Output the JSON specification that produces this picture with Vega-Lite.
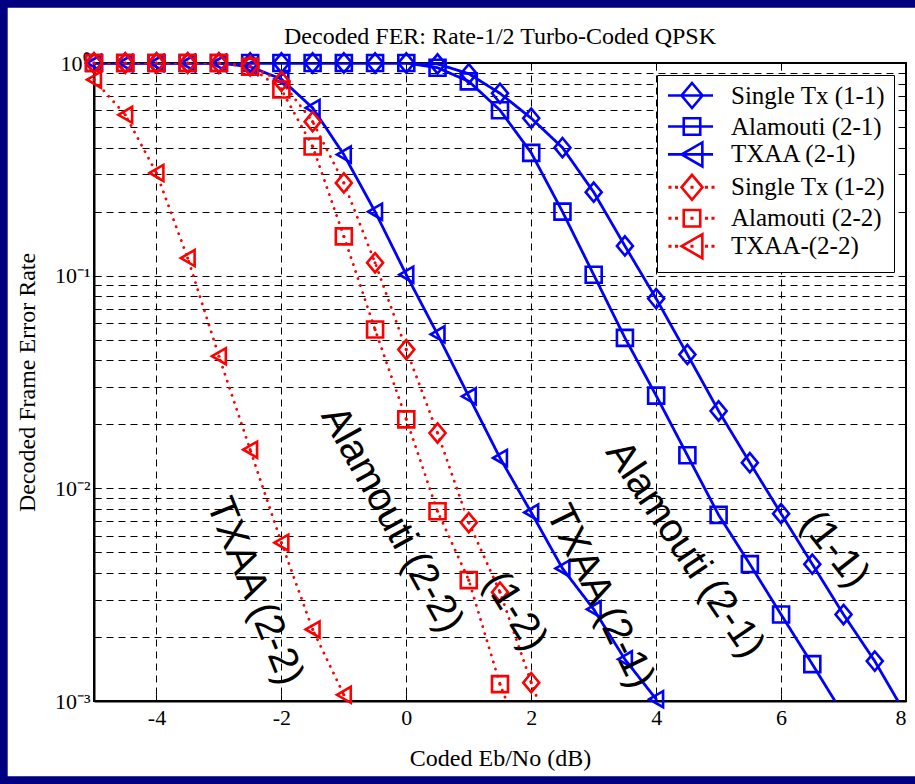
{
  "$schema": "https://vega.github.io/schema/vega-lite/v6.json",
  "width": 812,
  "height": 638,
  "autosize": {"type": "none"},
  "padding": {"left": 94, "top": 63, "right": 9, "bottom": 83},
  "background": "white",
  "title": {
    "text": "Decoded FER: Rate-1/2 Turbo-Coded QPSK",
    "font": "Liberation Serif",
    "fontSize": 24,
    "fontWeight": "normal",
    "color": "black",
    "anchor": "middle",
    "frame": "group",
    "baseline": "alphabetic",
    "offset": 0,
    "dy": 78
  },
  "config": {
    "view": {"stroke": "black", "strokeWidth": 2},
    "axis": {
      "labelFont": "Liberation Serif",
      "labelFontSize": 22,
      "labelColor": "black",
      "titleFont": "Liberation Serif",
      "titleFontSize": 24,
      "titleFontWeight": "normal",
      "titleColor": "black",
      "domainColor": "black",
      "domainWidth": 2,
      "tickColor": "black",
      "tickWidth": 1,
      "gridColor": "black",
      "gridOpacity": 1,
      "gridWidth": 1,
      "gridDash": [7, 5]
    },
    "legend": {
      "symbolSize": 100,
      "symbolStrokeWidth": 2.6
    }
  },
  "datasets": {
    "fer": [
      {"series": "Single Tx (1-1)", "ebno": -5, "fer": 1},
      {"series": "Single Tx (1-1)", "ebno": -4.5, "fer": 1},
      {"series": "Single Tx (1-1)", "ebno": -4, "fer": 1},
      {"series": "Single Tx (1-1)", "ebno": -3.5, "fer": 1},
      {"series": "Single Tx (1-1)", "ebno": -3, "fer": 1},
      {"series": "Single Tx (1-1)", "ebno": -2.5, "fer": 1},
      {"series": "Single Tx (1-1)", "ebno": -2, "fer": 1},
      {"series": "Single Tx (1-1)", "ebno": -1.5, "fer": 1},
      {"series": "Single Tx (1-1)", "ebno": -1, "fer": 1},
      {"series": "Single Tx (1-1)", "ebno": -0.5, "fer": 1},
      {"series": "Single Tx (1-1)", "ebno": 0, "fer": 1},
      {"series": "Single Tx (1-1)", "ebno": 0.5, "fer": 0.99},
      {"series": "Single Tx (1-1)", "ebno": 1, "fer": 0.89},
      {"series": "Single Tx (1-1)", "ebno": 1.5, "fer": 0.72},
      {"series": "Single Tx (1-1)", "ebno": 2, "fer": 0.55},
      {"series": "Single Tx (1-1)", "ebno": 2.5, "fer": 0.4},
      {"series": "Single Tx (1-1)", "ebno": 3, "fer": 0.247},
      {"series": "Single Tx (1-1)", "ebno": 3.5, "fer": 0.138},
      {"series": "Single Tx (1-1)", "ebno": 4, "fer": 0.078},
      {"series": "Single Tx (1-1)", "ebno": 4.5, "fer": 0.0426},
      {"series": "Single Tx (1-1)", "ebno": 5, "fer": 0.0231},
      {"series": "Single Tx (1-1)", "ebno": 5.5, "fer": 0.0132},
      {"series": "Single Tx (1-1)", "ebno": 6, "fer": 0.0076},
      {"series": "Single Tx (1-1)", "ebno": 6.5, "fer": 0.0044},
      {"series": "Single Tx (1-1)", "ebno": 7, "fer": 0.00255},
      {"series": "Single Tx (1-1)", "ebno": 7.5, "fer": 0.00154},
      {"series": "Single Tx (1-1)", "ebno": 8, "fer": 0.00086},
      {"series": "Alamouti (2-1)", "ebno": -5, "fer": 1},
      {"series": "Alamouti (2-1)", "ebno": -4.5, "fer": 1},
      {"series": "Alamouti (2-1)", "ebno": -4, "fer": 1},
      {"series": "Alamouti (2-1)", "ebno": -3.5, "fer": 1},
      {"series": "Alamouti (2-1)", "ebno": -3, "fer": 1},
      {"series": "Alamouti (2-1)", "ebno": -2.5, "fer": 1},
      {"series": "Alamouti (2-1)", "ebno": -2, "fer": 1},
      {"series": "Alamouti (2-1)", "ebno": -1.5, "fer": 1},
      {"series": "Alamouti (2-1)", "ebno": -1, "fer": 1},
      {"series": "Alamouti (2-1)", "ebno": -0.5, "fer": 1},
      {"series": "Alamouti (2-1)", "ebno": 0, "fer": 1},
      {"series": "Alamouti (2-1)", "ebno": 0.5, "fer": 0.95},
      {"series": "Alamouti (2-1)", "ebno": 1, "fer": 0.82},
      {"series": "Alamouti (2-1)", "ebno": 1.5, "fer": 0.6},
      {"series": "Alamouti (2-1)", "ebno": 2, "fer": 0.378},
      {"series": "Alamouti (2-1)", "ebno": 2.5, "fer": 0.2},
      {"series": "Alamouti (2-1)", "ebno": 3, "fer": 0.101},
      {"series": "Alamouti (2-1)", "ebno": 3.5, "fer": 0.051},
      {"series": "Alamouti (2-1)", "ebno": 4, "fer": 0.0273},
      {"series": "Alamouti (2-1)", "ebno": 4.5, "fer": 0.0143},
      {"series": "Alamouti (2-1)", "ebno": 5, "fer": 0.0075},
      {"series": "Alamouti (2-1)", "ebno": 5.5, "fer": 0.0044},
      {"series": "Alamouti (2-1)", "ebno": 6, "fer": 0.00255},
      {"series": "Alamouti (2-1)", "ebno": 6.5, "fer": 0.00149},
      {"series": "Alamouti (2-1)", "ebno": 7, "fer": 0.00086},
      {"series": "TXAA (2-1)", "ebno": -5, "fer": 1},
      {"series": "TXAA (2-1)", "ebno": -4.5, "fer": 1},
      {"series": "TXAA (2-1)", "ebno": -4, "fer": 1},
      {"series": "TXAA (2-1)", "ebno": -3.5, "fer": 1},
      {"series": "TXAA (2-1)", "ebno": -3, "fer": 1},
      {"series": "TXAA (2-1)", "ebno": -2.5, "fer": 0.96},
      {"series": "TXAA (2-1)", "ebno": -2, "fer": 0.84},
      {"series": "TXAA (2-1)", "ebno": -1.5, "fer": 0.615},
      {"series": "TXAA (2-1)", "ebno": -1, "fer": 0.371},
      {"series": "TXAA (2-1)", "ebno": -0.5, "fer": 0.2},
      {"series": "TXAA (2-1)", "ebno": 0, "fer": 0.101},
      {"series": "TXAA (2-1)", "ebno": 0.5, "fer": 0.053},
      {"series": "TXAA (2-1)", "ebno": 1, "fer": 0.0271},
      {"series": "TXAA (2-1)", "ebno": 1.5, "fer": 0.0139},
      {"series": "TXAA (2-1)", "ebno": 2, "fer": 0.0077},
      {"series": "TXAA (2-1)", "ebno": 2.5, "fer": 0.0042},
      {"series": "TXAA (2-1)", "ebno": 3, "fer": 0.0027},
      {"series": "TXAA (2-1)", "ebno": 3.5, "fer": 0.00157},
      {"series": "TXAA (2-1)", "ebno": 4, "fer": 0.00102},
      {"series": "Single Tx (1-2)", "ebno": -5, "fer": 1},
      {"series": "Single Tx (1-2)", "ebno": -4.5, "fer": 1},
      {"series": "Single Tx (1-2)", "ebno": -4, "fer": 1},
      {"series": "Single Tx (1-2)", "ebno": -3.5, "fer": 1},
      {"series": "Single Tx (1-2)", "ebno": -3, "fer": 1},
      {"series": "Single Tx (1-2)", "ebno": -2.5, "fer": 0.97},
      {"series": "Single Tx (1-2)", "ebno": -2, "fer": 0.82},
      {"series": "Single Tx (1-2)", "ebno": -1.5, "fer": 0.53},
      {"series": "Single Tx (1-2)", "ebno": -1, "fer": 0.273},
      {"series": "Single Tx (1-2)", "ebno": -0.5, "fer": 0.115},
      {"series": "Single Tx (1-2)", "ebno": 0, "fer": 0.0449},
      {"series": "Single Tx (1-2)", "ebno": 0.5, "fer": 0.0182},
      {"series": "Single Tx (1-2)", "ebno": 1, "fer": 0.0069},
      {"series": "Single Tx (1-2)", "ebno": 1.5, "fer": 0.00325},
      {"series": "Single Tx (1-2)", "ebno": 2, "fer": 0.00122},
      {"series": "Single Tx (1-2)", "ebno": 2.5, "fer": 0.0005},
      {"series": "Alamouti (2-2)", "ebno": -5, "fer": 1},
      {"series": "Alamouti (2-2)", "ebno": -4.5, "fer": 1},
      {"series": "Alamouti (2-2)", "ebno": -4, "fer": 1},
      {"series": "Alamouti (2-2)", "ebno": -3.5, "fer": 1},
      {"series": "Alamouti (2-2)", "ebno": -3, "fer": 1},
      {"series": "Alamouti (2-2)", "ebno": -2.5, "fer": 0.96},
      {"series": "Alamouti (2-2)", "ebno": -2, "fer": 0.75},
      {"series": "Alamouti (2-2)", "ebno": -1.5, "fer": 0.405},
      {"series": "Alamouti (2-2)", "ebno": -1, "fer": 0.153},
      {"series": "Alamouti (2-2)", "ebno": -0.5, "fer": 0.0558},
      {"series": "Alamouti (2-2)", "ebno": 0, "fer": 0.0211},
      {"series": "Alamouti (2-2)", "ebno": 0.5, "fer": 0.0078},
      {"series": "Alamouti (2-2)", "ebno": 1, "fer": 0.0037},
      {"series": "Alamouti (2-2)", "ebno": 1.5, "fer": 0.0012},
      {"series": "Alamouti (2-2)", "ebno": 2, "fer": 0.0005},
      {"series": "TXAA-(2-2)", "ebno": -5, "fer": 0.835},
      {"series": "TXAA-(2-2)", "ebno": -4.5, "fer": 0.571},
      {"series": "TXAA-(2-2)", "ebno": -4, "fer": 0.304},
      {"series": "TXAA-(2-2)", "ebno": -3.5, "fer": 0.121},
      {"series": "TXAA-(2-2)", "ebno": -3, "fer": 0.0418},
      {"series": "TXAA-(2-2)", "ebno": -2.5, "fer": 0.0152},
      {"series": "TXAA-(2-2)", "ebno": -2, "fer": 0.00555},
      {"series": "TXAA-(2-2)", "ebno": -1.5, "fer": 0.00217},
      {"series": "TXAA-(2-2)", "ebno": -1, "fer": 0.00107}
    ]
  },
  "data": {"name": "fer"},
  "resolve": {"axis": {"x": "independent", "y": "independent"}, "scale": {"shape": "independent", "color": "independent"}},
  "layer": [
    {
      "mark": {"type": "line", "clip": true, "strokeWidth": 2.8, "strokeCap": "round", "strokeJoin": "round"},
      "encoding": {
        "x": {
          "field": "ebno", "type": "quantitative",
          "scale": {"domain": [-5, 8], "nice": false, "zero": false},
          "axis": {
            "orient": "bottom",
            "values": [-4, -2, 0, 2, 4, 6, 8],
            "labelExpr": "'' + datum.value",
            "grid": true,
            "tickSize": -7,
            "labelPadding": 13,
            "title": "Coded Eb/No (dB)",
            "titlePadding": 18
          }
        },
        "y": {
          "field": "fer", "type": "quantitative",
          "scale": {"type": "log", "domain": [0.001, 1], "nice": false},
          "axis": {
            "orient": "left",
            "values": [0.001, 0.002, 0.003, 0.004, 0.005, 0.006, 0.007, 0.008, 0.009, 0.01, 0.02, 0.03, 0.04, 0.05, 0.06, 0.07, 0.08, 0.09, 0.1, 0.2, 0.3, 0.4, 0.5, 0.6, 0.7, 0.8, 0.9, 1],
            "labelExpr": "datum.value == 1 ? '10⁰' : datum.value == 0.1 ? '10⁻¹' : datum.value == 0.01 ? '10⁻²' : datum.value == 0.001 ? '10⁻³' : ''",
            "grid": true,
            "tickSize": -7,
            "labelPadding": 11,
            "title": "Decoded Frame Error Rate",
            "titlePadding": 15
          }
        },
        "color": {
          "field": "series", "type": "nominal",
          "scale": {
            "domain": ["Single Tx (1-1)", "Alamouti (2-1)", "TXAA (2-1)", "Single Tx (1-2)", "Alamouti (2-2)", "TXAA-(2-2)"],
            "range": ["#0000FF", "#0000FF", "#0000FF", "#FF0000", "#FF0000", "#FF0000"]
          },
          "legend": null
        },
        "strokeDash": {
          "field": "series", "type": "nominal",
          "scale": {
            "range": [[1, 0], [0.1, 7.3], [1, 0], [0.1, 7.3], [1, 0], [0.1, 7.3]]
          },
          "legend": null
        }
      }
    },
    {
      "transform": [{"filter": "datum.fer >= 0.001"}],
      "mark": {"type": "point", "filled": false, "strokeWidth": 2.6, "opacity": 1},
      "encoding": {
        "x": {"field": "ebno", "type": "quantitative", "axis": null},
        "y": {"field": "fer", "type": "quantitative", "axis": null},
        "color": {
          "field": "series", "type": "nominal",
          "scale": {
            "domain": ["Single Tx (1-1)", "Alamouti (2-1)", "TXAA (2-1)", "Single Tx (1-2)", "Alamouti (2-2)", "TXAA-(2-2)"],
            "range": ["#0000FF", "#0000FF", "#0000FF", "#FF0000", "#FF0000", "#FF0000"]
          },
          "legend": null
        },
        "shape": {
          "field": "series", "type": "nominal",
          "scale": {
            "range": ["square", "square", "M0,-1.2L1,0L0,1.2L-1,0Z", "M0,-1.2L1,0L0,1.2L-1,0Z", "triangle-left", "triangle-left"]
          },
          "legend": null
        },
        "size": {
          "field": "series", "type": "nominal",
          "scale": {
            "range": [256, 256, 430, 430, 529, 529]
          },
          "legend": null
        }
      }
    },
    {
      "transform": [
        {"filter": "datum.fer >= 0.001"},
        {"filter": "datum.series == 'Single Tx (1-2)' || datum.series == 'Alamouti (2-2)' || datum.series == 'TXAA-(2-2)'"}
      ],
      "mark": {"type": "circle", "size": 10, "color": "#FF0000", "opacity": 1},
      "encoding": {
        "x": {"field": "ebno", "type": "quantitative", "axis": null},
        "y": {"field": "fer", "type": "quantitative", "axis": null}
      }
    },
    {
      "transform": [{"filter": "datum.fer > 10"}],
      "mark": {"type": "point", "filled": false, "strokeWidth": 2.6, "size": 100, "opacity": 1},
      "encoding": {
        "x": {"field": "ebno", "type": "quantitative", "axis": null},
        "y": {"field": "fer", "type": "quantitative", "axis": null},
        "color": {
          "field": "series", "type": "nominal",
          "scale": {
            "domain": ["Single Tx (1-1)", "Alamouti (2-1)", "TXAA (2-1)", "Single Tx (1-2)", "Alamouti (2-2)", "TXAA-(2-2)"],
            "range": ["#0000FF", "#0000FF", "#0000FF", "#FF0000", "#FF0000", "#FF0000"]
          }
        },
        "shape": {
          "field": "series", "type": "nominal",
          "scale": {
            "domain": ["Single Tx (1-1)", "Alamouti (2-1)", "TXAA (2-1)", "Single Tx (1-2)", "Alamouti (2-2)", "TXAA-(2-2)"],
            "range": [
              "M-1.9,0H7.1M2.9,-2.5L5,0L2.9,2.5L0.8,0Z",
              "M-1.9,0H7.1M1.25,-1.65H4.55V1.65H1.25Z",
              "M-1.9,0H7.1M0.83,0L4.97,-2.4V2.4Z",
              "M-1.55,-0.05h0.1v0.1h-0.1ZM-0.25,-0.05h0.1v0.1h-0.1ZM2.85,-0.05h0.1v0.1h-0.1ZM5.75,-0.05h0.1v0.1h-0.1ZM7.05,-0.05h0.1v0.1h-0.1ZM2.9,-2.5L5,0L2.9,2.5L0.8,0Z",
              "M-1.55,-0.05h0.1v0.1h-0.1ZM-0.25,-0.05h0.1v0.1h-0.1ZM2.85,-0.05h0.1v0.1h-0.1ZM5.75,-0.05h0.1v0.1h-0.1ZM7.05,-0.05h0.1v0.1h-0.1ZM1.25,-1.65H4.55V1.65H1.25Z",
              "M-1.55,-0.05h0.1v0.1h-0.1ZM-0.25,-0.05h0.1v0.1h-0.1ZM2.85,-0.05h0.1v0.1h-0.1ZM5.75,-0.05h0.1v0.1h-0.1ZM7.05,-0.05h0.1v0.1h-0.1ZM0.83,0L4.97,-2.4V2.4Z"
            ]
          },
          "legend": {
            "title": null,
            "orient": "top-right",
            "offset": 12,
            "padding": 8,
            "strokeColor": "black",
            "fillColor": "white",
            "labelFont": "Liberation Serif",
            "labelFontSize": 25,
            "labelColor": "black",
            "labelLimit": 400,
            "labelOffset": 41,
            "rowPadding": -3.1,
            "symbolSize": 100,
            "symbolStrokeWidth": 2.6,
            "symbolFillColor": "transparent",
            "symbolOpacity": 1
          }
        }
      }
    },
    {
      "data": {"values": [{"label": "TXAA (2-2)", "ebno": -2.43, "fer": 0.00328}]},
      "mark": {"type": "text", "font": "Liberation Sans", "fontSize": 40, "angle": 68, "align": "center", "baseline": "middle", "color": "black"},
      "encoding": {
        "x": {"field": "ebno", "type": "quantitative", "axis": null},
        "y": {"field": "fer", "type": "quantitative", "axis": null},
        "text": {"field": "label"}
      }
    },
    {
      "data": {"values": [{"label": "Alamouti (2-2)", "ebno": -0.23, "fer": 0.00714}]},
      "mark": {"type": "text", "font": "Liberation Sans", "fontSize": 40, "angle": 61, "align": "center", "baseline": "middle", "color": "black"},
      "encoding": {
        "x": {"field": "ebno", "type": "quantitative", "axis": null},
        "y": {"field": "fer", "type": "quantitative", "axis": null},
        "text": {"field": "label"}
      }
    },
    {
      "data": {"values": [{"label": "(1-2)", "ebno": 1.74, "fer": 0.00264}]},
      "mark": {"type": "text", "font": "Liberation Sans", "fontSize": 40, "angle": 58, "align": "center", "baseline": "middle", "color": "black"},
      "encoding": {
        "x": {"field": "ebno", "type": "quantitative", "axis": null},
        "y": {"field": "fer", "type": "quantitative", "axis": null},
        "text": {"field": "label"}
      }
    },
    {
      "data": {"values": [{"label": "TXAA (2-1)", "ebno": 3.1, "fer": 0.0031}]},
      "mark": {"type": "text", "font": "Liberation Sans", "fontSize": 40, "angle": 64, "align": "center", "baseline": "middle", "color": "black"},
      "encoding": {
        "x": {"field": "ebno", "type": "quantitative", "axis": null},
        "y": {"field": "fer", "type": "quantitative", "axis": null},
        "text": {"field": "label"}
      }
    },
    {
      "data": {"values": [{"label": "Alamouti (2-1)", "ebno": 4.46, "fer": 0.00516}]},
      "mark": {"type": "text", "font": "Liberation Sans", "fontSize": 40, "angle": 56, "align": "center", "baseline": "middle", "color": "black"},
      "encoding": {
        "x": {"field": "ebno", "type": "quantitative", "axis": null},
        "y": {"field": "fer", "type": "quantitative", "axis": null},
        "text": {"field": "label"}
      }
    },
    {
      "data": {"values": [{"label": "(1-1)", "ebno": 6.86, "fer": 0.00516}]},
      "mark": {"type": "text", "font": "Liberation Sans", "fontSize": 40, "angle": 52, "align": "center", "baseline": "middle", "color": "black"},
      "encoding": {
        "x": {"field": "ebno", "type": "quantitative", "axis": null},
        "y": {"field": "fer", "type": "quantitative", "axis": null},
        "text": {"field": "label"}
      }
    },
    {
      "data": {"values": [{}]},
      "mark": {"type": "rect", "filled": false, "stroke": "#000080", "strokeWidth": 18, "clip": false},
      "encoding": {
        "x": {"datum": -6.526, "type": "quantitative", "axis": {"orient": "top", "values": [-4, -2, 0, 2, 4, 6], "labels": false, "grid": false, "domain": false, "tickSize": -7, "title": null}},
        "x2": {"datum": 8.46},
        "y": {"datum": 2.005, "type": "quantitative", "axis": {"orient": "right", "values": [0.001, 0.002, 0.003, 0.004, 0.005, 0.006, 0.007, 0.008, 0.009, 0.01, 0.02, 0.03, 0.04, 0.05, 0.06, 0.07, 0.08, 0.09, 0.1, 0.2, 0.3, 0.4, 0.5, 0.6, 0.7, 0.8, 0.9, 1], "labels": false, "grid": false, "domain": false, "tickSize": -7, "title": null}},
        "y2": {"datum": 0.000402}
      }
    }
  ]
}
